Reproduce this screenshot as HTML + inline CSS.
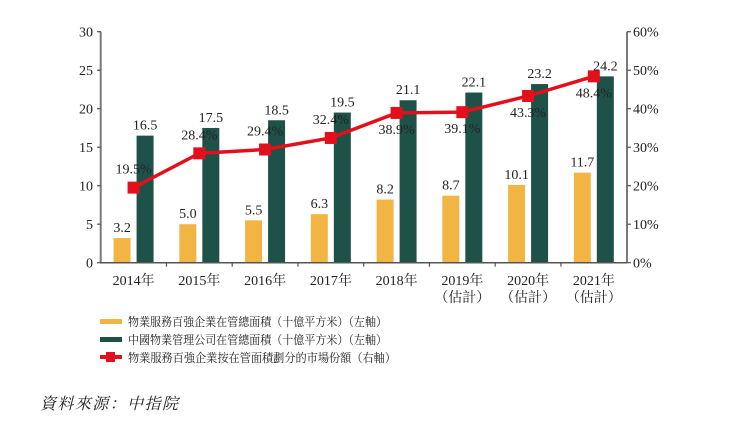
<!DOCTYPE html>
<html><head><meta charset="utf-8"><style>
html,body{margin:0;padding:0;background:#fff;}
svg{display:block;}
text{font-family:"Liberation Serif","Noto Serif CJK SC","Noto Sans CJK TC",serif;fill:#222;}
</style></head><body>
<svg width="750" height="424" viewBox="0 0 750 424" xmlns="http://www.w3.org/2000/svg">
<g id="bars"></g>
<!-- axes -->
<line x1="100.7" y1="31.7" x2="100.7" y2="263" stroke="#7a7a7a" stroke-width="2"/>
<line x1="627" y1="31.7" x2="627" y2="263" stroke="#7a7a7a" stroke-width="2"/>
<line x1="100" y1="262.7" x2="627" y2="262.7" stroke="#555" stroke-width="1.5"/>
<g id="ticks" stroke="#555" stroke-width="1.2"></g>
<g id="labels" font-size="14"></g>
<polyline id="line" fill="none" stroke="#e3101c" stroke-width="3.5"/>
<g id="marks" fill="#e3101c"></g>
<!-- legend -->
<rect x="100" y="319" width="22" height="5" fill="#f2b544"/>
<rect x="100" y="337" width="22" height="5" fill="#1e5249"/>
<rect x="100" y="355" width="22" height="4" fill="#e3101c"/>
<rect x="106" y="352" width="9" height="10" fill="#e3101c"/>
<text x="128" y="326" font-size="12" textLength="259" lengthAdjust="spacingAndGlyphs">物業服務百強企業在管總面積（十億平方米）（左軸）</text>
<text x="128" y="344" font-size="12" textLength="259" lengthAdjust="spacingAndGlyphs">中國物業管理公司在管總面積（十億平方米）（左軸）</text>
<text x="128" y="362" font-size="12" textLength="268" lengthAdjust="spacingAndGlyphs">物業服務百強企業按在管面積劃分的市場份額（右軸）</text>
<text x="40" y="409" font-size="16" font-style="italic" textLength="138" lengthAdjust="spacing">資料來源：中指院</text>
</svg>
<script>
const NS="http://www.w3.org/2000/svg";
function el(p,t,a,txt){const e=document.createElementNS(NS,t);for(const k in a)e.setAttribute(k,a[k]);if(txt!==undefined)e.textContent=txt;document.getElementById(p).appendChild(e);return e;}
const y0=262.7,pu=7.7,pp=3.85,cw=65.75,x0=100.7;
const o=[3.2,5.0,5.5,6.3,8.2,8.7,10.1,11.7],g=[16.5,17.5,18.5,19.5,21.1,22.1,23.2,24.2],p=[19.5,28.4,29.4,32.4,38.9,39.1,43.3,48.4];
const above=[1,1,1,1,0,0,0,0];
let pts=[];
for(let i=0;i<8;i++){
 const c=x0+cw*(i+0.5);
 const ho=o[i]*pu,hg=g[i]*pu;
 el("bars","rect",{x:c-20,y:y0-ho,width:17,height:ho,fill:"#f2b544"});
 el("bars","rect",{x:c+3,y:y0-hg,width:17,height:hg,fill:"#1e5249"});
 el("labels","text",{x:c-11.5,y:y0-ho-6,"text-anchor":"middle"},o[i].toFixed(1));
 el("labels","text",{x:c+11.5,y:y0-hg-6,"text-anchor":"middle"},g[i].toFixed(1));
 const py=y0-p[i]*pp;pts.push(c+","+py);
 el("marks","rect",{x:c-6,y:py-6,width:12,height:12});
 el("labels","text",{x:c,y:above[i]?py-14:py+21,"text-anchor":"middle"},p[i].toFixed(1)+"%");
 el("labels","text",{x:c,y:285,"text-anchor":"middle"},(2014+i)+"年");
 if(i>=5) el("labels","text",{x:c,y:302,"text-anchor":"middle"},"（估計）");
 if(i>0) el("ticks","line",{x1:x0+cw*i,y1:y0,x2:x0+cw*i,y2:y0+4});
}
document.getElementById("line").setAttribute("points",pts.join(" "));
for(let k=0;k<=6;k++){
 const y=y0-k*5*pu;
 el("ticks","line",{x1:97,y1:y,x2:101,y2:y});
 el("labels","text",{x:93,y:y+5,"text-anchor":"end"},String(k*5));
 const yr=y0-k*10*pp;
 el("ticks","line",{x1:627,y1:yr,x2:631,y2:yr});
 el("labels","text",{x:633,y:yr+5},(k*10)+"%");
}
</script>
</body></html>
